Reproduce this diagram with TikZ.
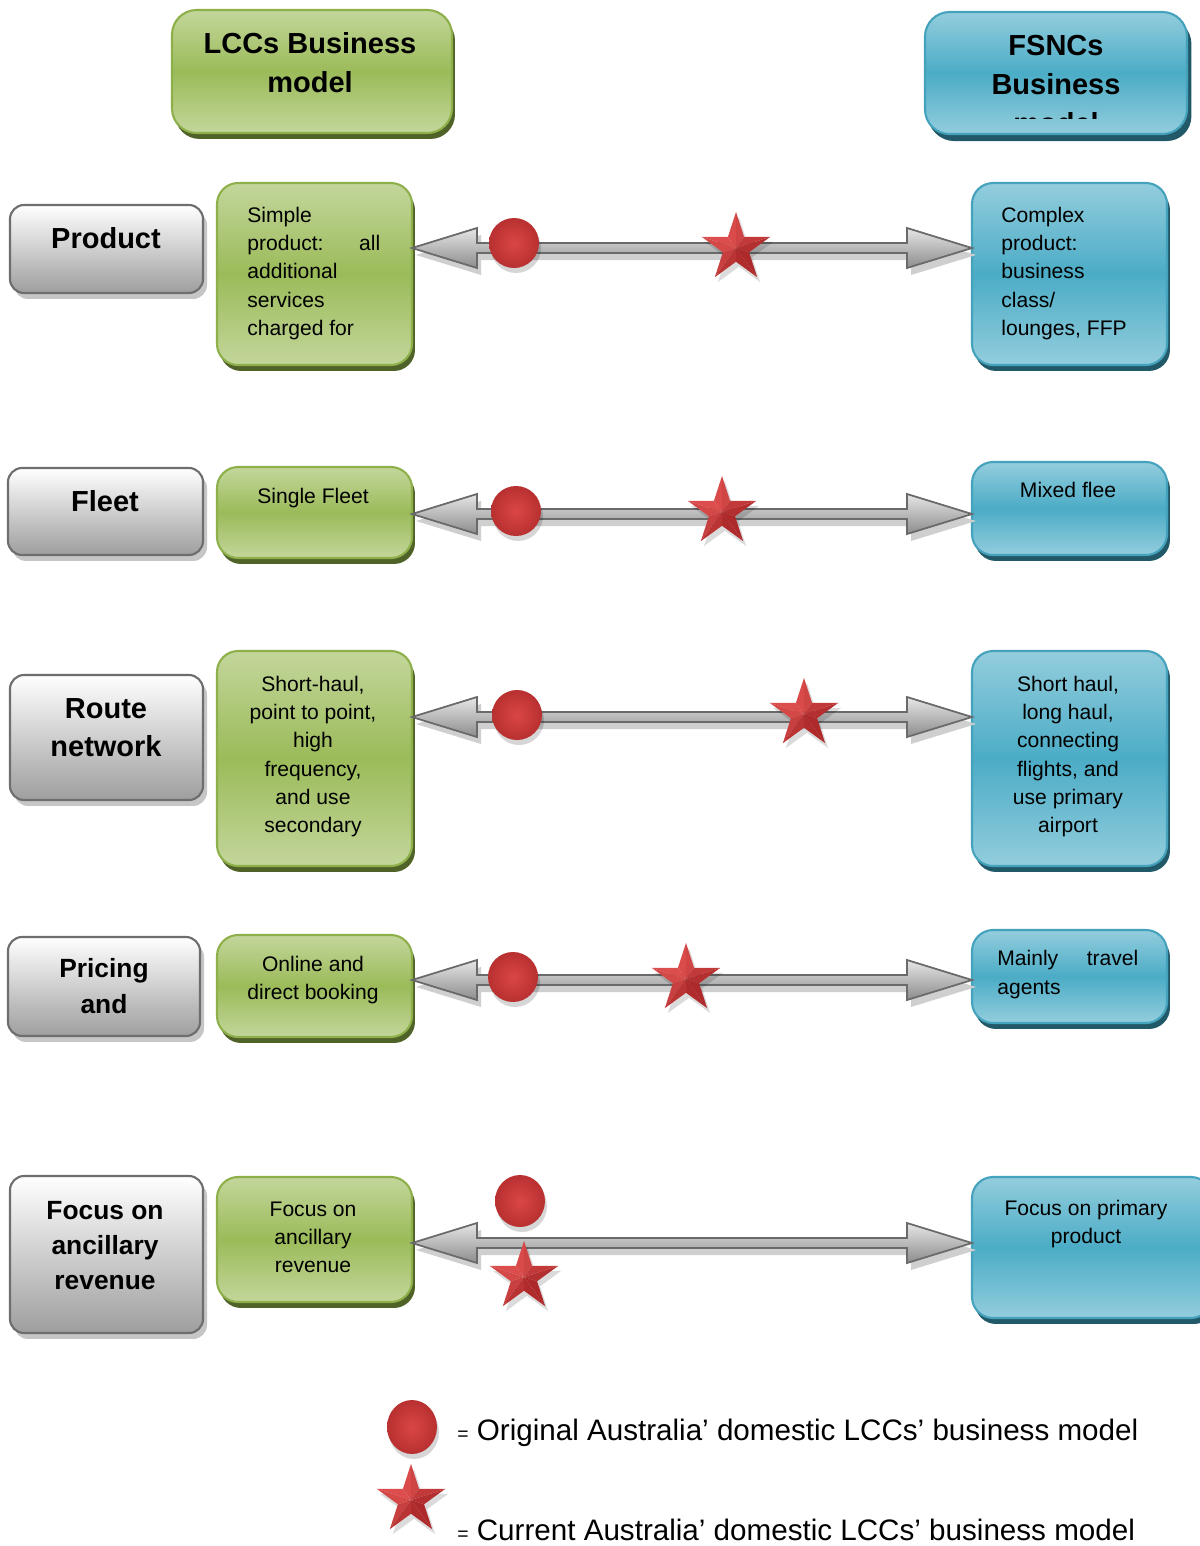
\documentclass[tikz,border=0pt]{standalone}
\usepackage{fontspec}
\setmainfont{Liberation Sans}
\usetikzlibrary{calc,shadows,shapes.geometric}
\definecolor{grayline}{HTML}{6E6E6E}
\definecolor{graysh}{HTML}{C6C6C6}
\definecolor{graybot}{HTML}{9E9E9E}
\definecolor{greenlight}{HTML}{C3D69B}
\definecolor{greenmid}{HTML}{9BBB59}
\definecolor{greenline}{HTML}{8EB04B}
\definecolor{greensh}{HTML}{4F6228}
\definecolor{bluelight}{HTML}{93CDDD}
\definecolor{bluemid}{HTML}{4BACC6}
\definecolor{blueline}{HTML}{45A2BC}
\definecolor{bluesh}{HTML}{215968}
\definecolor{arrowline}{HTML}{6A6A6A}
\definecolor{arrowtop}{HTML}{E6E6E6}
\definecolor{arrowbot}{HTML}{8C8C8C}
\definecolor{arrowsh}{HTML}{CFCFCF}
\definecolor{ballin}{HTML}{DB4646}
\definecolor{ballout}{HTML}{B83030}
\definecolor{starlit}{HTML}{E25252}
\definecolor{stardark}{HTML}{A82626}

\newcommand{\dblarrow}[2]{%
  \fill[arrowsh] ($(#1)+(4,7)$) -- ($(#1)+(69,-13)$) -- ($(#1)+(69,2)$) -- ($(#2)+(-61,2)$) -- ($(#2)+(-61,-13)$) -- ($(#2)+(4,7)$) -- ($(#2)+(-61,27)$) -- ($(#2)+(-61,12)$) -- ($(#1)+(69,12)$) -- ($(#1)+(69,27)$) -- cycle;
  \draw[arrowline, line width=1pt, line join=miter, top color=arrowtop, bottom color=arrowbot] (#1) -- ($(#1)+(65,-20)$) -- ($(#1)+(65,-5)$) -- ($(#2)+(-65,-5)$) -- ($(#2)+(-65,-20)$) -- (#2) -- ($(#2)+(-65,20)$) -- ($(#2)+(-65,5)$) -- ($(#1)+(65,5)$) -- ($(#1)+(65,20)$) -- cycle;
}
\newcommand{\bball}[5]{%
  \fill[black, opacity=0.16] (#2+2,#3+5) ellipse [x radius=#4*0.02cm, y radius=#5*0.02cm];
  \shade[inner color=ballin, outer color=ballout] (#2,#3) ellipse [x radius=#4*0.02cm, y radius=#5*0.02cm];
  \coordinate (#1) at (#2,#3);
}
\newcommand{\bstar}[4]{%
  \coordinate (#1) at (#2,#3);
  \node[star, star points=5, star point ratio=2.618, minimum size=#4*0.04cm, inner sep=0pt, fill=black, opacity=0.14] (#1sh) at (#2+3,#3+5) {};
  \pgfmathsetmacro\ri{#4*0.382}
  \foreach \k in {0,...,4}{
    \pgfmathsetmacro\ao{-90+72*\k}
    \pgfmathsetmacro\aR{\ao+36}
    \pgfmathsetmacro\aL{\ao-36}
    \pgfmathtruncatemacro\bR{50+40*cos(\ao+18-225)}
    \pgfmathtruncatemacro\bL{50+40*cos(\ao-18-225)}
    \fill[starlit!\bR!stardark] (#1) -- ($(#1)+(\ao:#4)$) -- ($(#1)+(\aR:\ri)$) -- cycle;
    \fill[starlit!\bL!stardark] (#1) -- ($(#1)+(\ao:#4)$) -- ($(#1)+(\aL:\ri)$) -- cycle;
  }
}

\tikzset{
  wh/.style 2 args={minimum width=#1*0.02cm, minimum height=#2*0.02cm},
  graybox/.style={draw=grayline, line width=1.2pt, rounded corners=8pt, top color=white, bottom color=graybot, drop shadow={shadow xshift=2.3pt, shadow yshift=-3.4pt, fill=graysh, opacity=1}, inner sep=0pt, outer sep=0pt},
  greenbox/.style={draw=greenline, line width=1.2pt, rounded corners=12pt, top color=greenlight, bottom color=greenlight, middle color=greenmid, drop shadow={shadow xshift=1.7pt, shadow yshift=-3.4pt, fill=greensh, opacity=1}, inner sep=0pt, outer sep=0pt},
  bluebox/.style={draw=blueline, line width=1.2pt, rounded corners=12pt, top color=bluelight, bottom color=bluelight, middle color=bluemid, drop shadow={shadow xshift=1.7pt, shadow yshift=-3.4pt, fill=bluesh, opacity=1}, inner sep=0pt, outer sep=0pt},
  hdr/.style={font=\fontsize{16.5}{22}\selectfont\bfseries, align=center, inner sep=0pt},
  lbl/.style={font=\fontsize{16.5}{20}\selectfont\bfseries, align=center, inner sep=0pt},
  lblsm/.style={font=\fontsize{15}{20}\selectfont\bfseries, align=center, inner sep=0pt},
  body/.style={font=\fontsize{12}{16}\selectfont, inner sep=0pt},
  legend/.style={font=\fontsize{16.85}{20}\selectfont, inner sep=0pt, anchor=west},
}

\begin{document}
\begin{tikzpicture}[x=0.02cm, y=-0.02cm]
\fill[white] (0,0) rectangle (1200,1546);
\useasboundingbox (0,0) rectangle (1200,1546);

% headers
\node[greenbox, wh={280}{123}, rounded corners=14pt] (LH) at (312,71.5) {};
\node[hdr] (tLH) at (310,62.5) {LCCs Business\\model};
\node[bluebox, wh={262}{122}, rounded corners=14pt, drop shadow={shadow xshift=2.5pt, shadow yshift=-4pt, fill=bluesh, opacity=1}] (FH) at (1056,73) {};
\begin{scope}
  \clip (925,12) rectangle (1187,118.5);
  \node[hdr] (tFH) at (1056,84.5) {FSNCs\\Business\\model};
\end{scope}

% left labels
\node[graybox, wh={193}{88}] (gP) at (106.5,249) {};
\node[lbl] (tP) at (106,238) {Product};
\node[graybox, wh={195}{87}] (gF) at (105.5,511.5) {};
\node[lbl] (tF) at (105,501) {Fleet};
\node[graybox, wh={193}{125}] (gR) at (106.5,737.5) {};
\node[lbl, font=\fontsize{16.5}{22}\selectfont\bfseries] (tR) at (106,727.5) {Route\\network};
\node[graybox, wh={192}{99}] (gPr) at (104,986.5) {};
\node[lblsm] (tPr) at (104,986) {Pricing\\and};
\node[graybox, wh={193}{157}] (gFo) at (106.5,1254.5) {};
\node[lblsm] (tFo) at (105,1245.5) {Focus on\\ancillary\\revenue};

% green boxes
\node[greenbox, wh={195}{182}] (G1) at (314.5,274) {};
\node[body, align=left, anchor=west] (tG1) at (247,273.5) {Simple\\\makebox[2.66cm][s]{product: all}\\additional\\services\\charged for};
\node[greenbox, wh={195}{91}] (G2) at (314.5,512.5) {};
\node[body, align=center] (tG2) at (313,498) {Single Fleet};
\node[greenbox, wh={195}{215}] (G3) at (314.5,758.5) {};
\node[body, align=center] (tG3) at (313,756.5) {Short-haul,\\point to point,\\high\\frequency,\\and use\\secondary};
\node[greenbox, wh={195}{102}] (G4) at (314.5,986) {};
\node[body, align=center] (tG4) at (313,980) {Online and\\direct booking};
\node[greenbox, wh={195}{125}] (G5) at (314.5,1239.5) {};
\node[body, align=center] (tG5) at (313,1237) {Focus on\\ancillary\\revenue};

% blue boxes
\node[bluebox, wh={195}{182}] (B1) at (1069.5,274) {};
\node[body, align=left, anchor=west] (tB1) at (1001,273.5) {Complex\\product:\\business\\class/\\lounges, FFP};
\node[bluebox, wh={195}{93}] (B2) at (1069.5,508.5) {};
\node[body, align=center] (tB2) at (1068,490) {Mixed flee};
\node[bluebox, wh={195}{215}] (B3) at (1069.5,758.5) {};
\node[body, align=center] (tB3) at (1068,756.5) {Short haul,\\long haul,\\connecting\\flights, and\\use primary\\airport};
\node[bluebox, wh={195}{93}] (B4) at (1069.5,976.5) {};
\node[body, align=left, anchor=west] (tB4) at (997,974.5) {\makebox[2.82cm][s]{Mainly travel}\\agents};
\node[bluebox, wh={240}{141}] (B5) at (1092,1247.5) {};
\node[body, align=center] (tB5) at (1086,1224) {Focus on primary\\product};

% arrows
\coordinate (l1) at (G1.east |- 0,248);  \coordinate (r1) at (B1.west |- 0,248);
\coordinate (l2) at (G2.east |- 0,514);  \coordinate (r2) at (B2.west |- 0,514);
\coordinate (l3) at (G3.east |- 0,717);  \coordinate (r3) at (B3.west |- 0,717);
\coordinate (l4) at (G4.east |- 0,980);  \coordinate (r4) at (B4.west |- 0,980);
\coordinate (l5) at (G5.east |- 0,1243); \coordinate (r5) at (B5.west |- 0,1243);
\dblarrow{l1}{r1}
\dblarrow{l2}{r2}
\dblarrow{l3}{r3}
\dblarrow{l4}{r4}
\dblarrow{l5}{r5}

% markers
\bball{c1}{514}{243}{25}{25}
\bball{c2}{516}{511}{25}{25}
\bball{c3}{517}{715}{25}{25}
\bball{c4}{513}{977}{25}{25}
\bball{c5}{520}{1201}{25}{26}
\bstar{s1}{736}{248}{36}
\bstar{s2}{722}{512}{36}
\bstar{s3}{804}{714}{36}
\bstar{s4}{686}{979}{36}
\bstar{s5}{524}{1277}{36}

% legend
\bball{cL}{412}{1427}{25}{27}
\bstar{sL}{411}{1500}{36}
\node[legend] (tL1) at (457,1433) {{\fontsize{11}{12}\selectfont =} Original Australia’ domestic LCCs’ business model};
\node[legend] (tL2) at (457,1530) {{\fontsize{11}{12}\selectfont =} Current Australia’ domestic LCCs’ business model};
\end{tikzpicture}
\end{document}
